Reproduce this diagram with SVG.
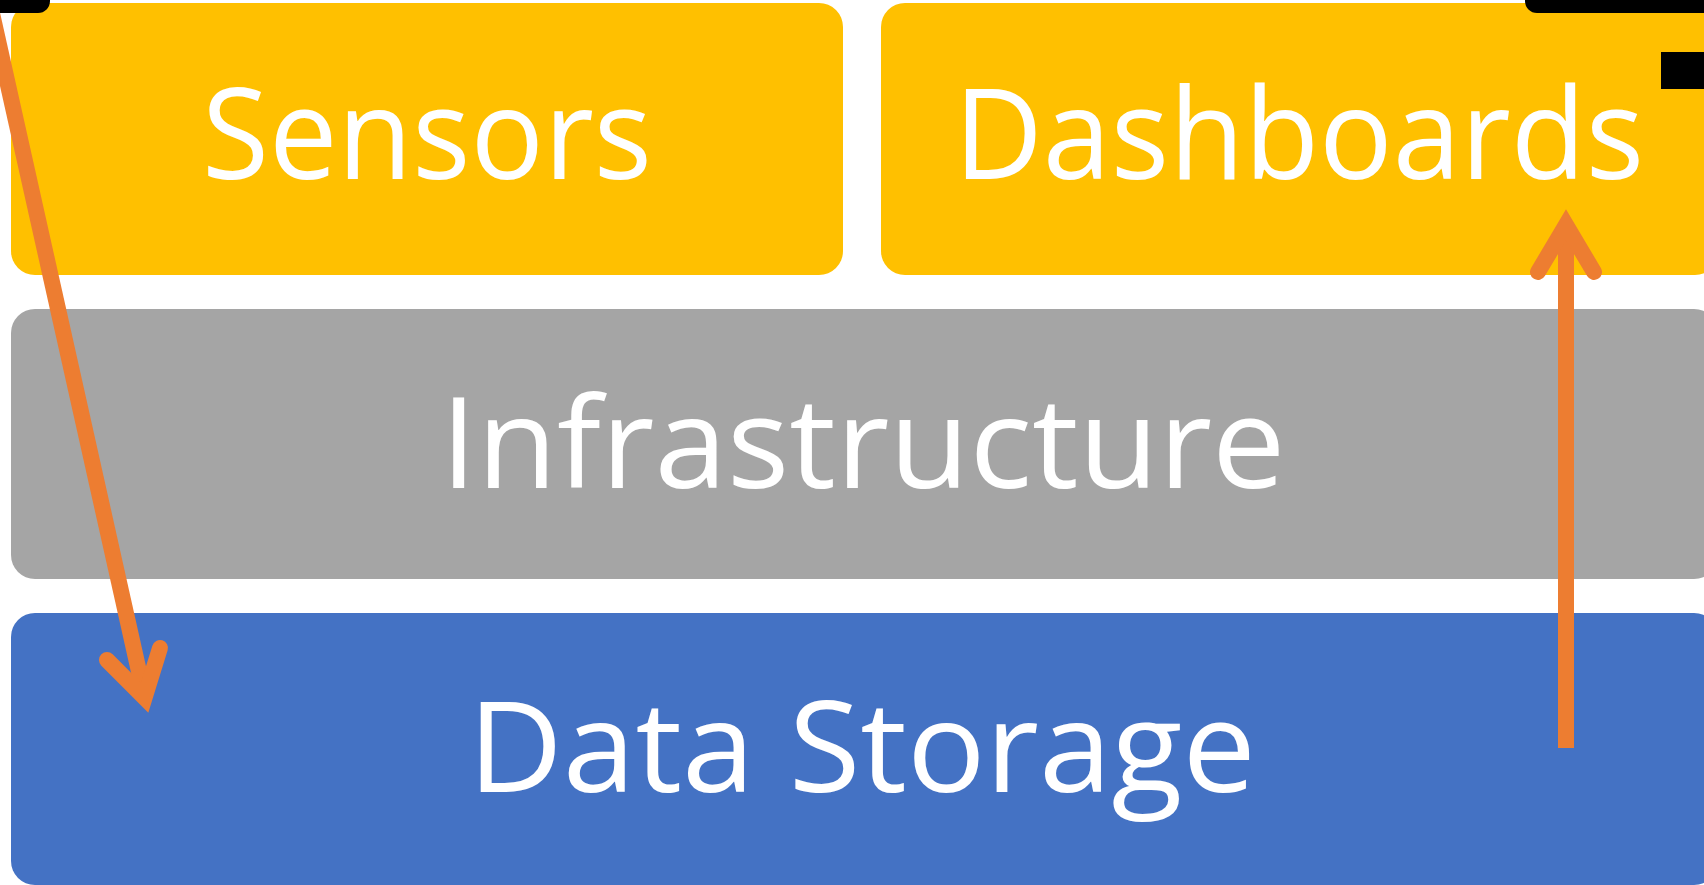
<svg xmlns="http://www.w3.org/2000/svg" width="1704" height="885" viewBox="0 0 1704 885">
<style>
.lbl{font-family:"Open Sans","Noto Sans","Liberation Sans",sans-serif;font-size:126px;fill:#FFFFFF;text-anchor:middle}
.arr{fill:none;stroke:#ED7D31;stroke-width:16}
.head{fill:none;stroke:#ED7D31;stroke-width:16;stroke-linecap:round;stroke-linejoin:miter;stroke-miterlimit:10}
</style>
<rect width="1704" height="885" fill="#FFFFFF"/>
<g id="sensors">
<rect x="11" y="3" width="832" height="272" rx="24" fill="#FFC000"/>
<text class="lbl" x="427" y="179" textLength="450" lengthAdjust="spacingAndGlyphs">Sensors</text>
</g>
<g id="dashboards">
<rect x="881" y="3" width="838" height="272" rx="24" fill="#FFC000"/>
<text class="lbl" x="1299" y="179" textLength="690" lengthAdjust="spacingAndGlyphs">Dashboards</text>
</g>
<g id="infrastructure">
<rect x="11" y="309" width="1707" height="270" rx="24" fill="#A5A5A5"/>
<text class="lbl" x="863" y="488" textLength="845" lengthAdjust="spacingAndGlyphs">Infrastructure</text>
</g>
<g id="data-storage">
<rect x="11" y="613" width="1707" height="272" rx="24" fill="#4472C4"/>
<text class="lbl" x="862" y="792" textLength="788" lengthAdjust="spacingAndGlyphs">Data Storage</text>
</g>
<g id="marks">
<path d="M0 0 H50 V1 A12 12 0 0 1 38 13 H0 Z" fill="#000000"/>
<path d="M1525 0 H1704 V13 H1537 A12 12 0 0 1 1525 1 Z" fill="#000000"/>
<rect x="1661" y="52" width="43" height="37" fill="#000000"/>
</g>
<g id="connectors">
<line class="arr" x1="-11" y1="0" x2="144" y2="694"/>
<polyline class="head" points="107,660 144.6,697.7 160,648"/>
<line class="arr" x1="1566" y1="748" x2="1566" y2="230"/>
<polyline class="head" points="1538,272 1566,225 1594,272"/>
</g>
</svg>
